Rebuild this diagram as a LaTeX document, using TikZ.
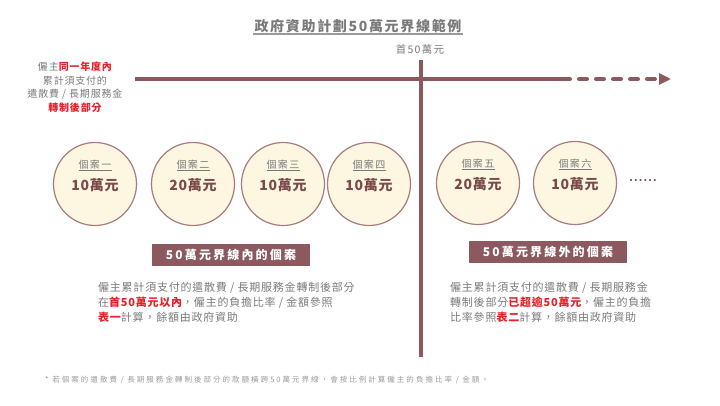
\documentclass[tikz,border=0pt]{standalone}
\usepackage{fontspec}
\setmainfont{Noto Sans CJK TC}[LetterSpace=12]
\usepackage{tikz}
\usetikzlibrary{arrows.meta,positioning}
\definecolor{linerose}{HTML}{8C5A5E}
\definecolor{circlerim}{HTML}{A87C7C}
\definecolor{creamfill}{HTML}{FDF6E1}
\definecolor{graytext}{HTML}{7A7A7A}
\definecolor{lightgray}{HTML}{9A9A9A}
\definecolor{alertred}{HTML}{E8202A}
\definecolor{amountbrown}{HTML}{7B4A4A}
\newcommand{\redbold}[1]{{\bfseries\color{alertred}#1}}
\newcommand{\casetag}[1]{{\fontsize{10}{12}\selectfont\addfontfeature{LetterSpace=15}\color{graytext}\underline{#1}}}
\newcommand{\caseamt}[1]{{\fontsize{14}{16}\selectfont\bfseries\addfontfeature{LetterSpace=5}\color{amountbrown}#1}}

\begin{document}
\begin{tikzpicture}[x=1pt,y=-1pt,
  casecircle/.style={circle,draw=circlerim,line width=1.2pt,fill=creamfill,
                     minimum size=83pt,inner sep=0pt,align=center,text depth=18pt},
  groupbox/.style={fill=linerose,text=white,inner sep=0pt,
                   minimum width=158pt,minimum height=22pt,
                   font=\fontsize{12}{14}\selectfont\bfseries\addfontfeature{LetterSpace=18}},
  para/.style={anchor=north west,align=left,text=graytext,inner sep=0pt,
               font=\fontsize{11}{15}\selectfont\addfontfeature{LetterSpace=7}},
  track/.style={line width=4pt,linerose}
]
  \useasboundingbox (0,0) rectangle (720,405);

  % title
  \node[text=graytext,inner sep=1pt,font=\fontsize{14}{16}\selectfont\bfseries] (title) at (358,26) {政府資助計劃50萬元界線範例};
  \draw[lightgray,line width=1.3pt] (title.south west) -- (title.south east);
  \node[text=graytext,font=\fontsize{10.5}{12}\selectfont] (first) at (420,49) {首50萬元};

  % timeline and limit
  \coordinate (tlstart) at (135,79);
  \coordinate (tldash) at (562,79);
  \coordinate (tlend) at (671,79);
  \coordinate (limtop) at (421,60);
  \coordinate (limbot) at (421,357);
  \draw[track] (tlstart) -- (tldash);
  \draw[track,line cap=round,dash pattern=on 8pt off 9pt,
        -{Triangle[length=12pt,width=11pt]}] (tldash) -- (tlend);
  \draw[track] (limtop) -- (limbot);

  \node[anchor=north,align=center,text=graytext,inner sep=0pt,
        font=\fontsize{10}{13.5}\selectfont\addfontfeature{LetterSpace=8}] (note) at (75,62)
    {僱主\redbold{同一年度內}\\累計須支付的\\遣散費 / 長期服務金\\\redbold{轉制後部分}};

  % cases
  \node[casecircle] (case1) at (95,184) {\casetag{個案一}\\[6pt]\caseamt{10萬元}};
  \node[casecircle] (case2) at (193,184) {\casetag{個案二}\\[6pt]\caseamt{20萬元}};
  \node[casecircle] (case3) at (283,184) {\casetag{個案三}\\[6pt]\caseamt{10萬元}};
  \node[casecircle] (case4) at (369,184) {\casetag{個案四}\\[6pt]\caseamt{10萬元}};
  \node[casecircle] (case5) at (478,183) {\casetag{個案五}\\[6pt]\caseamt{20萬元}};
  \node[casecircle] (case6) at (575,183) {\casetag{個案六}\\[6pt]\caseamt{10萬元}};
  \node[text=amountbrown,font=\bfseries\fontsize{10}{12}\selectfont] (more) at (643,181) {......};

  % groups
  \node[groupbox] (inbox) at (231,255) {50萬元界線內的個案};
  \node[groupbox] (outbox) at (548,252) {50萬元界線外的個案};
  \node[para] (inpara) at (98,282)
    {僱主累計須支付的遣散費 / 長期服務金轉制後部分\\
     在\redbold{首50萬元以內}，僱主的負擔比率 / 金額參照\\
     \redbold{表一}計算，餘額由政府資助};
  \node[para] (outpara) at (450,282)
    {僱主累計須支付的遣散費 / 長期服務金\\
     轉制後部分\redbold{已超逾50萬元}，僱主的負擔\\
     比率參照\redbold{表二}計算，餘額由政府資助};

  \node[anchor=west,text=lightgray,inner sep=0pt,
        font=\fontsize{7.5}{9}\selectfont\addfontfeature{LetterSpace=27}] (foot) at (45,380)
    {* 若個案的遣散費 / 長期服務金轉制後部分的款額橫跨50萬元界線，會按比例計算僱主的負擔比率 / 金額。};
\end{tikzpicture}
\end{document}
